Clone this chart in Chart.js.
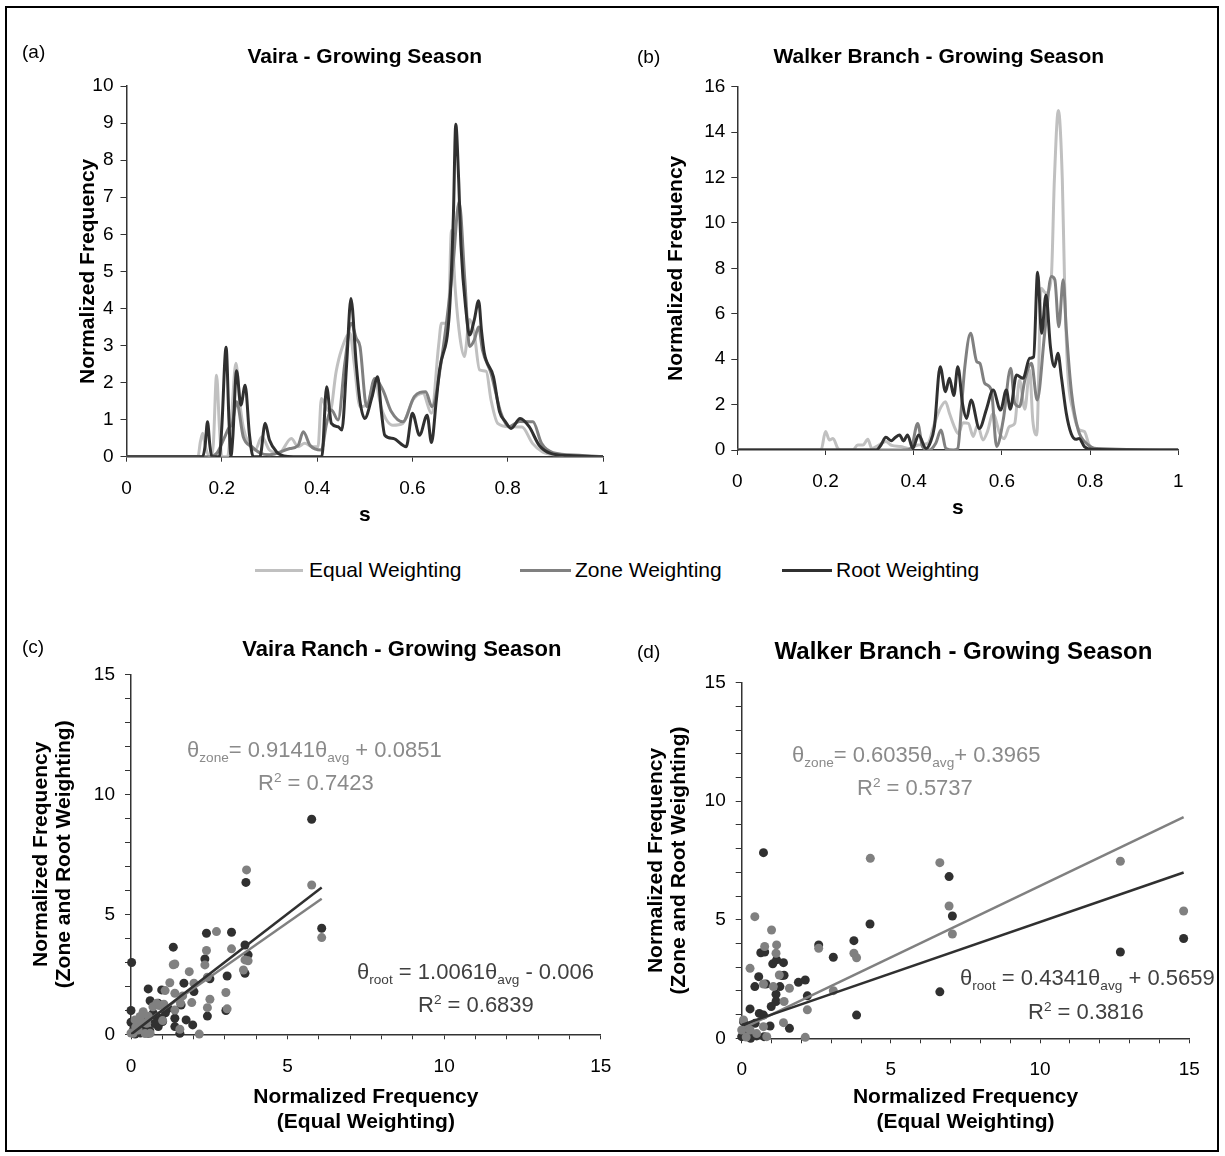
<!DOCTYPE html>
<html><head><meta charset="utf-8">
<script src="https://cdn.jsdelivr.net/npm/chart.js@4/dist/chart.umd.min.js"></script>
<style>
html,body{margin:0;padding:0;background:#fff;}
body{width:1225px;height:1156px;position:relative;overflow:hidden;font-family:"Liberation Sans",Arial,sans-serif;}
#frame{position:absolute;left:5px;top:6px;width:1210px;height:1142px;border:2px solid #000;}
canvas{position:absolute;}
.lbl{position:absolute;font-size:19px;line-height:24px;color:#000;white-space:nowrap;}
.eq{position:absolute;font-size:22px;line-height:26px;white-space:nowrap;}
.eq sub,.eq sup{font-size:62%;line-height:0;}
.sw{position:absolute;height:3px;}
.lg{position:absolute;font-size:21px;line-height:24px;white-space:nowrap;color:#000;}
</style></head><body>
<div id="frame"></div>
<canvas id="ca" width="620" height="540" style="left:0px;top:0px"></canvas>
<canvas id="cb" width="590" height="540" style="left:615px;top:0px"></canvas>
<canvas id="cc" width="620" height="560" style="left:0px;top:590px"></canvas>
<canvas id="cd" width="600" height="560" style="left:615px;top:590px"></canvas>

<div class="lbl" style="left:22px;top:40px">(a)</div>
<div class="lbl" style="left:637px;top:45px">(b)</div>
<div class="lbl" style="left:22px;top:635px">(c)</div>
<div class="lbl" style="left:637px;top:640px">(d)</div>

<div class="sw" style="left:255px;top:569px;width:48px;background:#c0c0c0"></div>
<div class="lg" style="left:309px;top:558px">Equal Weighting</div>
<div class="sw" style="left:520px;top:569px;width:51px;background:#808080"></div>
<div class="lg" style="left:575px;top:558px">Zone Weighting</div>
<div class="sw" style="left:782px;top:569px;width:50px;background:#303030"></div>
<div class="lg" style="left:836px;top:558px">Root Weighting</div>

<div class="eq" style="left:187px;top:737px;color:#8a8a8a">θ<sub>zone</sub>= 0.9141θ<sub>avg</sub> + 0.0851</div>
<div class="eq" style="left:258px;top:770px;color:#8a8a8a">R<sup>2</sup> = 0.7423</div>
<div class="eq" style="left:357px;top:959px;color:#404040">θ<sub>root</sub> = 1.0061θ<sub>avg</sub> - 0.006</div>
<div class="eq" style="left:418px;top:992px;color:#404040">R<sup>2</sup> = 0.6839</div>
<div class="eq" style="left:792px;top:742px;color:#8a8a8a">θ<sub>zone</sub>= 0.6035θ<sub>avg</sub>+ 0.3965</div>
<div class="eq" style="left:857px;top:775px;color:#8a8a8a">R<sup>2</sup> = 0.5737</div>
<div class="eq" style="left:960px;top:965px;color:#404040">θ<sub>root</sub> = 0.4341θ<sub>avg</sub> + 0.5659</div>
<div class="eq" style="left:1028px;top:999px;color:#404040">R<sup>2</sup> = 0.3816</div>

<script>
// ---------- DATA (s, normalized frequency) ----------
const vairaEqual = [[0,0],[0.15,0],[0.155,0.4],[0.16,0.63],[0.165,0.3],[0.175,0],[0.182,0.3],[0.189,2.2],[0.195,0.8],[0.2,0],[0.212,0],[0.22,1.0],[0.2296,2.52],[0.238,1.44],[0.245,0.8],[0.256,0.36],[0.27,0.18],[0.284,0.54],[0.3,0.18],[0.32,0.1],[0.346,0.49],[0.36,0.27],[0.374,0.36],[0.39,0.27],[0.402,0.27],[0.409,1.57],[0.42,1.3],[0.427,1.21],[0.44,2.3],[0.451,2.88],[0.469,3.33],[0.478,2.5],[0.49,1.35],[0.507,1.44],[0.521,2.07],[0.535,1.3],[0.559,0.85],[0.58,0.9],[0.601,1.53],[0.622,1.71],[0.64,1.17],[0.655,3.0],[0.661,3.6],[0.675,3.6],[0.682,6.1],[0.69,4.5],[0.7,3.2],[0.709,2.7],[0.72,3.7],[0.73,3.3],[0.741,2.34],[0.755,2.3],[0.765,1.53],[0.779,0.9],[0.803,0.81],[0.83,0.8],[0.852,0.36],[0.873,0.13],[0.9,0.05],[1,0]];
const vairaZone = [[0,0],[0.16,0],[0.175,0],[0.19,0.1],[0.205,0.5],[0.214,0.76],[0.222,0.9],[0.231,1.48],[0.245,0.54],[0.263,0.27],[0.28,0.1],[0.3,0.05],[0.343,0.22],[0.36,0.3],[0.371,0.67],[0.385,0.31],[0.409,0.18],[0.42,0.9],[0.43,1.26],[0.444,0.99],[0.458,2.5],[0.472,3.6],[0.482,3.2],[0.49,2.97],[0.504,1.35],[0.521,2.11],[0.538,1.8],[0.556,1.21],[0.58,0.94],[0.604,1.62],[0.628,1.75],[0.641,1.35],[0.661,2.61],[0.685,5.13],[0.698,6.88],[0.71,4.77],[0.72,2.97],[0.73,3.15],[0.739,3.5],[0.747,2.88],[0.765,2.25],[0.786,1.17],[0.803,0.81],[0.825,0.95],[0.853,0.94],[0.871,0.36],[0.895,0.11],[0.95,0.04],[1,0]];
const vairaRoot = [[0,0],[0.16,0],[0.165,0.3],[0.17,0.94],[0.175,0.3],[0.179,0],[0.195,0],[0.2,0.8],[0.209,2.95],[0.215,1.0],[0.219,0],[0.223,0.5],[0.231,2.32],[0.24,1.39],[0.249,1.93],[0.258,0.6],[0.266,0],[0.28,0],[0.291,0.9],[0.3,0.45],[0.315,0.13],[0.33,0.02],[0.35,0],[0.41,0],[0.42,1.89],[0.43,0.9],[0.444,0.81],[0.452,0.72],[0.462,2.5],[0.471,4.27],[0.482,2.52],[0.49,1.5],[0.5,1.03],[0.515,1.6],[0.527,2.16],[0.535,1.2],[0.542,0.58],[0.56,0.49],[0.587,0.27],[0.6,1.17],[0.615,0.58],[0.631,1.12],[0.64,0.38],[0.65,1.5],[0.657,2.34],[0.678,3.96],[0.686,6.5],[0.691,8.97],[0.697,7.5],[0.702,5.67],[0.713,3.87],[0.72,3.28],[0.73,3.7],[0.739,4.21],[0.745,3.4],[0.751,2.79],[0.77,2.16],[0.783,1.21],[0.795,0.95],[0.807,0.76],[0.826,1.03],[0.845,0.81],[0.866,0.31],[0.89,0.09],[0.929,0.03],[1,0]];

const walkerEqual = [[0,0],[0.19,0],[0.2,0.81],[0.209,0.44],[0.217,0.51],[0.228,0.07],[0.235,0],[0.262,0],[0.273,0.22],[0.285,0.22],[0.296,0.47],[0.305,0.07],[0.315,0.15],[0.337,0.37],[0.35,0.2],[0.37,0.15],[0.39,0.07],[0.41,0.22],[0.432,0.29],[0.447,1.17],[0.462,1.9],[0.472,2.13],[0.481,1.62],[0.492,1.03],[0.501,0.73],[0.512,1.2],[0.524,1.17],[0.535,0.6],[0.545,1.1],[0.557,0.44],[0.567,0.8],[0.58,1.6],[0.595,0.73],[0.605,0.5],[0.617,1.03],[0.629,1.17],[0.64,3.08],[0.652,1.8],[0.663,3.52],[0.67,1.32],[0.679,0.66],[0.689,7.12],[0.7,6.9],[0.712,7.6],[0.719,11.9],[0.728,14.95],[0.737,11.9],[0.742,7.5],[0.749,3.52],[0.761,1.76],[0.776,0.88],[0.787,0.81],[0.798,0.22],[0.814,0.03],[1,0]];
const walkerZone = [[0,0],[0.38,0],[0.394,0.07],[0.409,1.17],[0.42,0.15],[0.435,0],[0.45,0.3],[0.462,0.88],[0.473,0.07],[0.49,0],[0.5,0.07],[0.508,1.8],[0.516,3.67],[0.529,5.14],[0.543,3.89],[0.55,3.82],[0.561,2.94],[0.576,2.64],[0.588,0.15],[0.603,1.32],[0.62,3.6],[0.629,2.06],[0.64,1.91],[0.652,3.08],[0.667,3.82],[0.68,2.2],[0.697,5.14],[0.712,7.64],[0.72,7.5],[0.729,5.43],[0.739,7.5],[0.746,5.3],[0.758,2.5],[0.773,0.88],[0.792,0.29],[0.815,0.07],[1,0]];
const walkerRoot = [[0,0],[0.315,0],[0.325,0.2],[0.337,0.56],[0.349,0.41],[0.358,0.55],[0.368,0.66],[0.377,0.4],[0.386,0.66],[0.398,0.07],[0.411,0.66],[0.428,0.07],[0.437,0.3],[0.447,1.03],[0.46,3.67],[0.472,2.57],[0.481,3.16],[0.491,2.4],[0.5,3.67],[0.511,2.0],[0.52,1.39],[0.53,2.2],[0.549,0.95],[0.565,1.8],[0.58,2.64],[0.597,1.76],[0.61,2.64],[0.619,1.8],[0.633,3.3],[0.648,3.16],[0.663,4.04],[0.672,4.1],[0.681,7.83],[0.69,5.14],[0.7,6.83],[0.71,4.55],[0.719,3.67],[0.727,4.26],[0.735,3.2],[0.746,1.62],[0.757,0.73],[0.768,0.47],[0.775,0.51],[0.787,0.15],[0.803,0.03],[1,0]];

// scatter: [equal weighting, zone or root weighting]
const vairaScatterRoot = [[5.77,8.96],[3.67,6.33],[6.09,4.42],[2.41,4.21],[3.21,4.25],[1.35,3.63],[3.64,3.72],[3.74,3.31],[3.64,2.54],[2.36,3.14],[3.07,2.43],[2.52,2.31],[0.02,2.99],[1.69,2.13],[2.01,1.78],[0.55,1.89],[0.98,1.85],[0.61,1.4],[1.19,1.08],[0.87,1.29],[1.6,1.22],[3.03,0.99],[2.44,0.76],[1.4,0.67],[1.76,0.6],[1.97,0.39],[1.4,0.32],[1.56,0.04],[0,0.99],[0.82,0.74],[1.01,0.53],[0.87,0.32],[0.08,0.18],[0.23,0.11],[0.39,0.25],[0.55,0.04],[0.29,0.39],[0.13,0.01],[0.71,0.88],[0.98,0.67],[0,0.5],[0.45,0.6],[0.3,0.05],[0.1,0.3],[0.6,0.15],[1.1,0.9],[0.75,0.45]];
const vairaScatterZone = [[5.77,6.22],[3.69,6.85],[6.09,4.03],[2.73,4.28],[3.21,3.56],[2.41,3.49],[3.64,3.1],[3.74,3.06],[3.59,2.68],[1.4,2.93],[1.35,2.9],[2.36,2.89],[1.86,2.61],[2.44,2.38],[2.01,2.13],[1.24,2.15],[3.03,1.74],[1.4,1.71],[1.09,1.82],[1.65,1.6],[2.52,1.46],[1.94,1.32],[1.58,1.3],[0.82,1.29],[2.44,1.11],[3.07,1.06],[1.4,1.01],[1.01,0.57],[1.56,0.21],[2.18,0.01],[0.39,0.94],[0.29,0.74],[0.13,0.6],[0.5,0.46],[0.23,0.18],[0.61,0.04],[0.07,0.04],[0.45,0.03],[0.7,1.15],[0.9,1.2],[1.05,1.25],[0.35,0.5],[0.15,0.3],[0.55,0.75],[0,0.05]];
const walkerScatterRoot = [[0.73,7.83],[6.95,6.82],[7.06,5.16],[4.3,4.82],[3.76,4.12],[2.58,3.94],[3.07,3.42],[12.69,3.64],[14.81,4.21],[6.64,1.96],[3.85,0.98],[0.64,3.61],[0.77,3.64],[1.04,3.14],[1.17,3.31],[1.4,3.19],[1.42,2.66],[1.35,2.65],[0.57,2.6],[0.44,2.18],[0.81,2.29],[1.28,2.18],[1.15,1.86],[1.9,2.36],[2.13,2.46],[2.2,1.79],[1.15,1.55],[0.99,1.34],[0.28,1.24],[0.59,1.05],[0.73,0.98],[0.95,0.52],[1.6,0.42],[0.06,0.7],[0.22,0.49],[0.33,0.21],[0.5,0.1],[0.75,0.07],[0,0.07],[0.17,0.1],[0.11,0.35],[0.45,0.63],[0.3,0]];
const walkerScatterZone = [[4.31,7.59],[6.64,7.41],[12.69,7.47],[6.95,5.58],[7.06,4.4],[14.81,5.37],[0.44,5.13],[1.0,4.57],[0.77,3.87],[1.17,3.94],[1.15,3.59],[2.58,3.8],[3.76,3.59],[3.85,3.4],[0.28,2.95],[1.26,2.67],[0.73,2.29],[1.06,2.18],[1.6,2.11],[3.07,2.01],[1.42,1.55],[2.2,1.2],[1.4,0.66],[2.13,0.04],[0.73,0.49],[0.28,0.35],[0.06,0.77],[0,0.35],[0.5,0.2],[0.84,0.07],[0.15,0.05]];

// trendline coefficients [slope, intercept] as printed on the chart
const vairaFitZone = [0.9141, 0.0851];
const vairaFitRoot = [1.0061, -0.006];
const walkerFitZone = [0.6035, 0.3965];
const walkerFitRoot = [0.4341, 0.5659];

const seriesNames = ['Equal Weighting', 'Zone Weighting', 'Root Weighting'];

// ---------- RENDERING ----------
const FONT = '"Liberation Sans", Arial, sans-serif';
const C_EQUAL = '#c0c0c0', C_ZONE = '#808080', C_ROOT = '#303030';
const AXIS = '#333333';
const toXY = a => a.map(p => ({x: p[0], y: p[1]}));
function fitLine(pts, coef) {
  const xs = pts.map(p => p[0]);
  const lo = Math.min(...xs), hi = Math.max(...xs);
  return [lo, hi].map(x => ({x, y: coef[0] * x + coef[1]}));
}
function fitTo(size, horiz) {
  return s => {
    if (horiz) s.height = size; else s.width = size;
    s.paddingLeft = 0; s.paddingRight = 0; s.paddingTop = 0; s.paddingBottom = 0;
  };
}
const titleShift = {
  id: 'titleShift',
  afterLayout(chart, args, opts) {
    const t = chart.titleBlock;
    if (t && opts && opts.dx) { t.left += opts.dx; t.right += opts.dx; }
  }
};

function makeChart(id, g, datasets, sc) {
  const lh = g.titleSize * 1.2;
  const a = g.TY - g.CT - lh / 2;
  const b = g.PT - g.CT - lh - a;
  new Chart(document.getElementById(id), {
    type: 'scatter',
    data: {datasets},
    options: {
      responsive: false, animation: false, devicePixelRatio: 1,
      layout: {padding: {left: 0, top: 0, bottom: 0, right: g.CL + g.CW - g.PR}},
      plugins: {
        legend: {display: false}, tooltip: {enabled: false},
        title: {display: true, text: g.title, fullSize: false, color: '#000',
          font: {family: FONT, size: g.titleSize, weight: 'bold', lineHeight: 1.2},
          padding: {top: a, bottom: b}},
        titleShift: {dx: g.dx || 0}
      },
      scales: {
        x: {
          type: 'linear', position: 'bottom', min: sc.xmin, max: sc.xmax,
          afterFit: fitTo(g.CT + g.CH - g.PB, true),
          ticks: {stepSize: sc.xstep, padding: sc.xpad, color: '#000', maxRotation: 0, autoSkip: false,
            font: {family: FONT, size: 19, lineHeight: 1.2}, callback: sc.xcb},
          grid: {drawOnChartArea: false, drawTicks: true, tickLength: 5, color: AXIS, lineWidth: 1},
          border: {display: true, color: AXIS, width: 1.5},
          title: {display: true, text: sc.xtitle, color: '#000',
            font: {family: FONT, size: 21, weight: 'bold', lineHeight: 1.2},
            padding: {top: 0, bottom: sc.xtpad}}
        },
        y: {
          type: 'linear', position: 'left', min: sc.ymin, max: sc.ymax,
          afterFit: fitTo(g.PL - g.CL, false),
          ticks: {stepSize: sc.ystep, padding: sc.ypad, color: '#000', autoSkip: false,
            font: {family: FONT, size: 19, lineHeight: 1.2}, callback: sc.ycb},
          grid: {drawOnChartArea: false, drawTicks: true, tickLength: 6, color: AXIS, lineWidth: 1},
          border: {display: true, color: AXIS, width: 1.5},
          title: {display: true, text: sc.ytitle, color: '#000',
            font: {family: FONT, size: 21, weight: 'bold', lineHeight: sc.ylh},
            padding: {top: sc.ytpad, bottom: 0}}
        }
      }
    },
    plugins: [titleShift]
  });
}

function curve(label, pts, color, order) {
  return {type: 'line', label, data: toXY(pts), borderColor: color, backgroundColor: color,
    borderWidth: 3, pointRadius: 0, fill: false, cubicInterpolationMode: 'monotone', order};
}
function dots(label, pts, color, order) {
  return {type: 'scatter', label, data: toXY(pts), pointRadius: 4.5, pointBorderWidth: 0,
    pointBackgroundColor: color, backgroundColor: color, borderColor: color, clip: false, order};
}
function trend(label, pts, coef, color, order) {
  return {type: 'line', label, data: fitLine(pts, coef), borderColor: color, borderWidth: 2.5,
    pointRadius: 0, fill: false, showLine: true, order};
}

const sFmt = v => String(Number(v.toFixed(1)));
const every5 = v => (Math.round(v) % 5 === 0 ? String(Math.round(v)) : '');

makeChart('ca',
  {CL: 0, CT: 0, CW: 620, CH: 540, PL: 126.5, PR: 603, PT: 86, PB: 456.7, TY: 57, titleSize: 21,
   title: 'Vaira - Growing Season', dx: 0},
  [curve(seriesNames[0], vairaEqual, C_EQUAL, 3), curve(seriesNames[1], vairaZone, C_ZONE, 2),
   curve(seriesNames[2], vairaRoot, C_ROOT, 1)],
  {xmin: 0, xmax: 1, xstep: 0.2, xpad: 16, xcb: sFmt, xtitle: 's', xtpad: 12.4,
   ymin: 0, ymax: 10, ystep: 1, ypad: 7, ytitle: 'Normalized Frequency', ylh: 1.2, ytpad: 75.4});

makeChart('cb',
  {CL: 615, CT: 0, CW: 590, CH: 540, PL: 737.3, PR: 1178.3, PT: 86.7, PB: 450, TY: 57, titleSize: 21,
   title: 'Walker Branch - Growing Season', dx: -19},
  [curve(seriesNames[0], walkerEqual, C_EQUAL, 3), curve(seriesNames[1], walkerZone, C_ZONE, 2),
   curve(seriesNames[2], walkerRoot, C_ROOT, 1)],
  {xmin: 0, xmax: 1, xstep: 0.2, xpad: 15.5, xcb: sFmt, xtitle: 's', xtpad: 19.4,
   ymin: 0, ymax: 16, ystep: 2, ypad: 6, ytitle: 'Normalized Frequency', ylh: 1.2, ytpad: 48.4});

makeChart('cc',
  {CL: 0, CT: 590, CW: 620, CH: 560, PL: 131, PR: 600.7, PT: 674.3, PB: 1034.3, TY: 650, titleSize: 22,
   title: 'Vaira Ranch - Growing Season', dx: 36},
  [trend('Root fit', vairaScatterRoot, vairaFitRoot, C_ROOT, 0),
   trend('Zone fit', vairaScatterZone, vairaFitZone, C_ZONE, 1),
   dots('Zone Weighting', vairaScatterZone, C_ZONE, 2),
   dots('Root Weighting', vairaScatterRoot, C_ROOT, 3)],
  {xmin: 0, xmax: 15, xstep: 1, xpad: 16, xcb: every5,
   xtitle: ['Normalized Frequency', '(Equal Weighting)'], xtpad: 15.4,
   ymin: 0, ymax: 15, ystep: 1, ypad: 10, ycb: every5,
   ytitle: ['Normalized Frequency', '(Zone and Root Weighting)'], ylh: 1.1, ytpad: 29.5});

makeChart('cd',
  {CL: 615, CT: 590, CW: 600, CH: 560, PL: 741.7, PR: 1189.3, PT: 682.7, PB: 1038.3, TY: 652, titleSize: 24,
   title: 'Walker Branch - Growing Season', dx: -2},
  [trend('Root fit', walkerScatterRoot, walkerFitRoot, C_ROOT, 0),
   trend('Zone fit', walkerScatterZone, walkerFitZone, C_ZONE, 1),
   dots('Zone Weighting', walkerScatterZone, C_ZONE, 2),
   dots('Root Weighting', walkerScatterRoot, C_ROOT, 3)],
  {xmin: 0, xmax: 15, xstep: 1, xpad: 15, xcb: every5,
   xtitle: ['Normalized Frequency', '(Equal Weighting)'], xtpad: 15.4,
   ymin: 0, ymax: 15, ystep: 1, ypad: 10, ycb: every5,
   ytitle: ['Normalized Frequency', '(Zone and Root Weighting)'], ylh: 1.1, ytpad: 29.5});
</script>
</body></html>
